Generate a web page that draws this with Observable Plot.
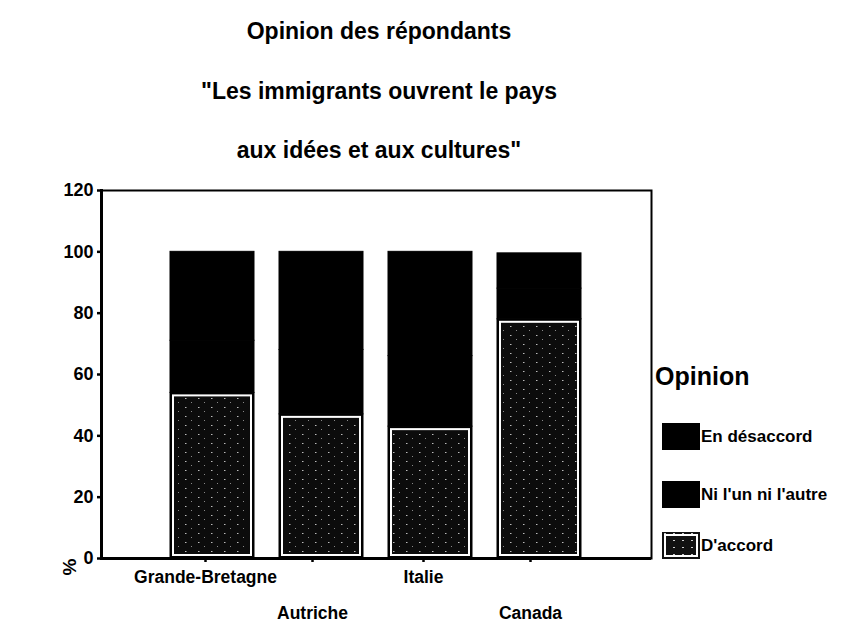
<!DOCTYPE html>
<html><head><meta charset="utf-8">
<script src="https://cdn.jsdelivr.net/npm/d3@7"></script>
<script src="https://cdn.jsdelivr.net/npm/@observablehq/plot@0.6"></script>
<style>
body{margin:0;background:#fff;font-family:"Liberation Sans",Arial,sans-serif;}
#wrap{position:relative;width:843px;height:623px;overflow:hidden;background:#fff;}
#chart{position:absolute;left:0;top:0;z-index:0;}
#titles{position:absolute;left:0;top:0;z-index:2;}
.t{position:absolute;left:0;width:758px;text-align:center;font-weight:bold;font-size:23px;color:#000;line-height:26px;white-space:nowrap;}
#ylab{position:absolute;left:62px;top:556px;font-weight:bold;font-size:19px;transform:rotate(-90deg);transform-origin:center;z-index:2;}
#legend{position:absolute;left:655px;top:362px;z-index:2;}
#legend .lt{font-size:25px;font-weight:bold;position:absolute;left:0;top:0;white-space:nowrap;}
.li{position:absolute;left:7px;white-space:nowrap;font-size:17px;font-weight:bold;height:28px;}
.sw{position:absolute;left:0;top:0;width:38px;height:27px;background:#000;}
.li span{position:absolute;left:39px;top:4px;}
</style></head><body>
<div id="wrap">
  <div id="chart"></div>
  <div id="titles"></div>
  <div id="ylab"></div>
  <div id="legend"></div>
</div>
<script>
const countries = ["Grande-Bretagne", "Autriche", "Italie", "Canada"];
const opinions = ["D'accord", "Ni l'un ni l'autre", "En désaccord"];
const daccord = [54, 47, 43, 78];
const ninini = [17, 21, 23, 10];
const desaccord = [29, 32, 34, 11.5];
const yTicks = [0, 20, 40, 60, 80, 100, 120];
const xRow1 = ["Grande-Bretagne", "Italie"];
const xRow2 = ["Autriche", "Canada"];
const titleLines = ["Opinion des répondants", "\"Les immigrants ouvrent le pays", "aux idées et aux cultures\""];
const legendTitle = "Opinion";
const legendItems = ["En désaccord", "Ni l'un ni l'autre", "D'accord"];
const yLabel = "%";

const series = [daccord, ninini, desaccord];
const rows = countries.flatMap((c, i) => opinions.map((o, j) => ({country: c, opinion: o, value: series[j][i]})));
const rowsD = rows.filter(d => d.opinion === "D'accord");

// titles
const tops = [18, 78, 137];
const tdiv = document.getElementById("titles");
titleLines.forEach((s, i) => {
  const d = document.createElement("div");
  d.className = "t"; d.style.top = tops[i] + "px"; d.textContent = s;
  tdiv.appendChild(d);
});
document.getElementById("ylab").textContent = yLabel;

const font = "'Liberation Sans', Arial, sans-serif";
const plot = Plot.plot({
  width: 843, height: 623,
  marginLeft: 101, marginRight: 192, marginTop: 190, marginBottom: 65,
  style: {fontFamily: font, background: "white", color: "black"},
  x: {domain: countries, paddingInner: 0.227, paddingOuter: 0.62, axis: null},
  y: {domain: [0, 120], axis: null},
  color: {domain: opinions, range: ["#000", "#000", "#000"]},
  marks: [
    Plot.barY(rows, Plot.stackY({x: "country", y: "value", fill: "opinion", stroke: "opinion", strokeWidth: 1, order: opinions})),
    Plot.barY(rowsD, {x: "country", y: "value", fill: "#0c0c0c", stroke: "white", strokeWidth: 2, inset: 3, className: "daccord"}),
    Plot.frame({stroke: "black", strokeWidth: 2}),
    Plot.frame({anchor: "left", stroke: "black", strokeWidth: 3}),
    Plot.ruleY([0], {stroke: "black", strokeWidth: 3}),
    Plot.axisY(yTicks, {tickSize: 4, tickPadding: 4, fontSize: 18, fontWeight: "bold", label: null, strokeWidth: 2.5}),
    Plot.axisX(xRow1, {tickSize: 4, tickPadding: 8, fontSize: 17.5, fontWeight: "bold", label: null, dx: -7, strokeWidth: 2.5}),
    Plot.axisX(xRow2, {tickSize: 4, tickPadding: 44, fontSize: 17.5, fontWeight: "bold", label: null, dx: -9, strokeWidth: 2.5})
  ]
});
document.getElementById("chart").appendChild(plot);

// speckled pattern for "D'accord"
const svg = d3.select(plot);
const pat = svg.insert("defs", ":first-child").append("pattern")
  .attr("id", "speck").attr("width", 13).attr("height", 9).attr("patternUnits", "userSpaceOnUse");
pat.append("rect").attr("width", 13).attr("height", 9).attr("fill", "#0c0c0c");
pat.append("rect").attr("x", 3).attr("y", 2).attr("width", 1.5).attr("height", 1).attr("fill", "#bbb");
pat.append("rect").attr("x", 9).attr("y", 6).attr("width", 1).attr("height", 1).attr("fill", "#888");
svg.selectAll(".daccord rect").attr("fill", "url(#speck)");

// legend
const lg = document.getElementById("legend");
const lt = document.createElement("div"); lt.className = "lt"; lt.textContent = legendTitle; lg.appendChild(lt);
const ltops = [61, 119, 170];
legendItems.forEach((s, i) => {
  const it = document.createElement("div"); it.className = "li"; it.style.top = ltops[i] + "px";
  const sw = document.createElement("div"); sw.className = "sw";
  if (s === "D'accord") { sw.style.background = "url(\"data:image/svg+xml;utf8,<svg xmlns='http://www.w3.org/2000/svg' width='9' height='7'><rect width='9' height='7' fill='%23111'/><rect x='2' y='1' width='2' height='1' fill='%23ccc'/></svg>\")"; sw.style.outline = "2px solid white"; sw.style.outlineOffset = "-4px"; }
  const sp = document.createElement("span"); sp.textContent = s;
  it.appendChild(sw); it.appendChild(sp); lg.appendChild(it);
});
</script>
</body></html>
